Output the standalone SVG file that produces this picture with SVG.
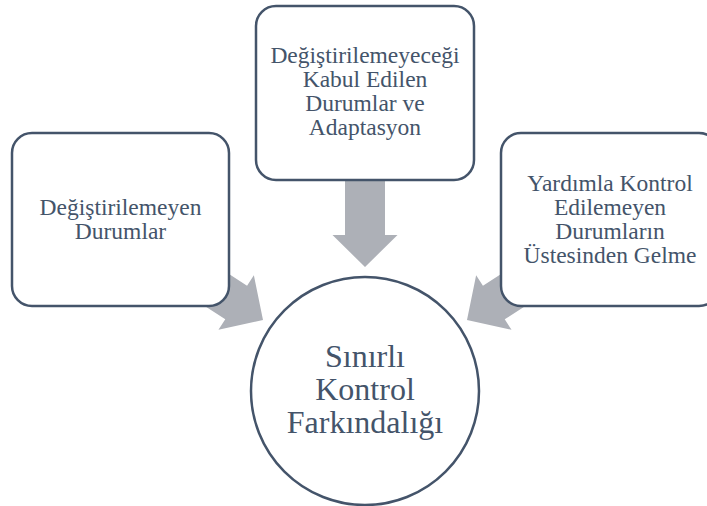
<svg xmlns="http://www.w3.org/2000/svg" width="707" height="506" viewBox="0 0 707 506">
  <style>
    .box { fill: #FFFFFF; stroke: #44546A; stroke-width: 2.5; }
    .arrow { fill: #ADB0B7; stroke: none; }
    text { fill: #44546A; text-anchor: middle; }
    .s { font-size: 23.5px; }
    .c { font-size: 32px; }
  </style>
  <defs>
    <polygon id="arr" points="0,0 -32,-32.5 -32,-20 -87,-20 -87,20 -32,20 -32,32.5"/>
  </defs>
  <rect width="707" height="506" fill="#FFFFFF"/>
  <g id="connectors">
    <use href="#arr" class="arrow" transform="translate(365,267) rotate(90)"/>
    <use href="#arr" class="arrow" transform="translate(263,320) rotate(33)"/>
    <use href="#arr" class="arrow" transform="translate(467,320) rotate(147)"/>
  </g>
  <g font-family="Liberation Serif, Times New Roman, DejaVu Serif, serif">
  <g id="node-left">
    <rect class="box" x="12" y="133" width="217" height="173" rx="20" ry="20"/>
    <text class="s" x="120.5" y="215">Değiştirilemeyen</text>
    <text class="s" x="120.5" y="239">Durumlar</text>
  </g>
  <g id="node-top">
    <rect class="box" x="256" y="6" width="218" height="174" rx="20" ry="20"/>
    <text class="s" x="365" y="63">Değiştirilemeyeceği</text>
    <text class="s" x="365" y="87">Kabul Edilen</text>
    <text class="s" x="365" y="111">Durumlar ve</text>
    <text class="s" x="365" y="135">Adaptasyon</text>
  </g>
  <g id="node-right">
    <rect class="box" x="501" y="133" width="218" height="173" rx="20" ry="20"/>
    <text class="s" x="610" y="191">Yardımla Kontrol</text>
    <text class="s" x="610" y="215">Edilemeyen</text>
    <text class="s" x="610" y="239">Durumların</text>
    <text class="s" x="610" y="263">Üstesinden Gelme</text>
  </g>
  <g id="node-center">
    <circle class="box" cx="365" cy="391" r="114"/>
    <text class="c" x="365" y="367">Sınırlı</text>
    <text class="c" x="365" y="400">Kontrol</text>
    <text class="c" x="365" y="433">Farkındalığı</text>
  </g>
  </g>
</svg>
